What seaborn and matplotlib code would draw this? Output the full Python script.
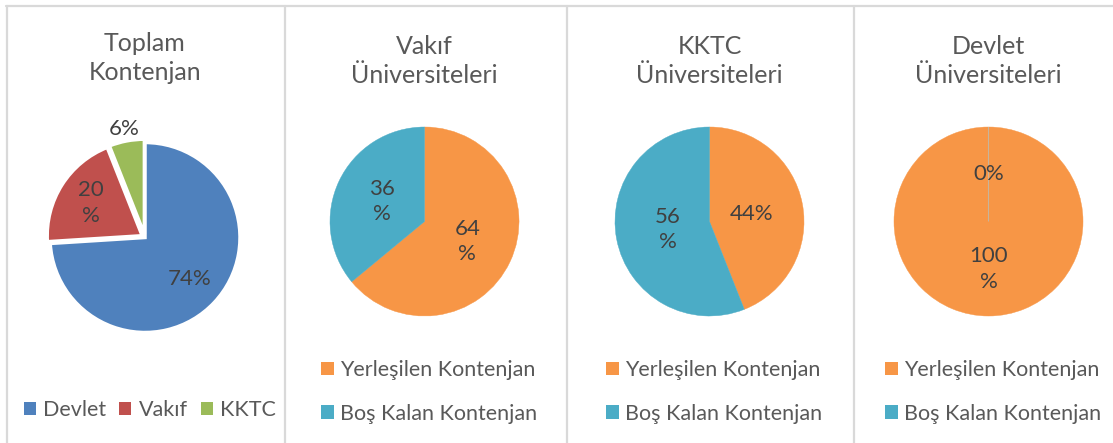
import matplotlib
matplotlib.use("Agg")
import matplotlib.pyplot as plt
import seaborn as sns
import numpy as np
from matplotlib.patches import Patch
from matplotlib.lines import Line2D

# ---------------- data ----------------
panel_titles = ["Toplam\nKontenjan", "Vakıf\nÜniversiteleri",
                "KKTC\nÜniversiteleri", "Devlet\nÜniversiteleri"]
total_categories = ["Devlet", "Vakıf", "KKTC"]
total_values = [74, 20, 6]
total_labels = ["74%", "20\n%", "6%"]
status_categories = ["Yerleşilen Kontenjan", "Boş Kalan Kontenjan"]
vakif_values = [64, 36]
vakif_labels = ["64\n%", "36\n%"]
kktc_values = [44, 56]
kktc_labels = ["44%", "56\n%"]
devlet_values = [100, 0]
devlet_labels = ["100\n%", "0%"]

# ---------------- style ----------------
sns.set_theme(style="white")
plt.rcParams['font.family'] = ['Lato', 'DejaVu Sans']
total_colors = sns.color_palette(["#4F81BD", "#C0504D", "#9BBB59"])
status_colors = sns.color_palette(["#F79646", "#4BACC6"])
TITLE_C = "#595959"
LABEL_C = "#404040"

W, H = 1113, 443
fig = plt.figure(figsize=(W / 100, H / 100), dpi=100)
fig.patch.set_facecolor("white")

def fx(x):
    return x / W

def fy(y):
    return 1 - y / H

# frame lines
frame_c = "#D9D9D9"
fig.add_artist(Line2D([fx(6), fx(1113)], [fy(5.5), fy(5.5)], color=frame_c, lw=1.6,
                      transform=fig.transFigure))
for xv in [6.5, 284.5, 566.5, 853.5]:
    fig.add_artist(Line2D([fx(xv), fx(xv)], [fy(5.5), fy(443)], color=frame_c, lw=1.6,
                          transform=fig.transFigure))

def pie_panel(cx, cy, r, values, colors, labels, radii, explode=None, edge=None, lw=0.0):
    pad = 1.25
    ra = r * pad
    ax = fig.add_axes([fx(cx - ra), fy(cy + ra), 2 * ra / W, 2 * ra / H])
    wedges, _ = ax.pie(values, colors=colors, startangle=90, counterclock=False,
                       explode=explode, radius=1)
    for w, c in zip(wedges, colors):
        w.set_edgecolor(edge if edge else c)
        w.set_linewidth(lw)
    ax.set_xlim(-pad, pad)
    ax.set_ylim(-pad, pad)
    ax.set_aspect("equal")
    ax.axis("off")
    for w, lab, rr in zip(wedges, labels, radii):
        mid = np.deg2rad((w.theta1 + w.theta2) / 2)
        c = w.center
        ax.text(c[0] + rr * np.cos(mid), c[1] + rr * np.sin(mid), lab,
                ha="center", va="center", fontsize=16, color=LABEL_C, linespacing=1.35)
    return ax, wedges

# panel 1
ax1, w1 = pie_panel(145, 237.5, 95, total_values, total_colors, total_labels,
                    [0.64, 0.64, 1.13], explode=[0, 0.035, 0.035], edge="white", lw=2.5)
# panel 2-4
pie_panel(424.5, 221.5, 94.5, vakif_values, status_colors, vakif_labels, [0.5, 0.5], lw=0.3)
pie_panel(709.5, 221.5, 94.5, kktc_values, status_colors, kktc_labels, [0.45, 0.45], lw=0.3)
ax4, w4 = pie_panel(988.5, 221.5, 94.5, devlet_values, status_colors, devlet_labels,
                    [0.5, 0.5], lw=0.3)
w4[1].set_edgecolor("#C9B49A")
w4[1].set_linewidth(0.8)

# titles
title_pos = [(145, 58), (424.5, 61), (709.5, 61), (988.5, 61)]
for (tx, ty), t in zip(title_pos, panel_titles):
    fig.text(fx(tx), fy(ty), t, ha="center", va="center", fontsize=18,
             color=TITLE_C, linespacing=1.35)

# legends
def sq(c):
    return Patch(facecolor=c, edgecolor="none")

fig.legend([sq(c) for c in total_colors], total_categories, loc="center",
           bbox_to_anchor=(fx(150), fy(410)), ncol=3, frameon=False, fontsize=15.5,
           handlelength=0.55, handleheight=0.55, handletextpad=0.35, columnspacing=0.6,
           borderpad=0, borderaxespad=0, labelcolor=TITLE_C)
for lx in [429, 714, 993]:
    fig.legend([sq(c) for c in status_colors], status_categories, loc="center",
               bbox_to_anchor=(fx(lx), fy(392)), ncol=1, frameon=False, fontsize=15.5,
               handlelength=0.6, handleheight=0.6, handletextpad=0.3, labelspacing=1.1,
               borderpad=0, borderaxespad=0, labelcolor=TITLE_C)

fig.savefig("out.png", dpi=100, facecolor="white")
